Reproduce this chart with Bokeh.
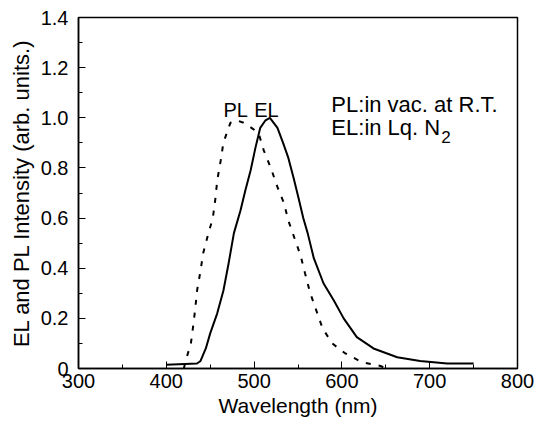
from bokeh.plotting import figure
from bokeh.models import Range1d, FixedTicker, Label
from bokeh.embed import file_html
from bokeh.resources import INLINE

# EL spectrum (solid), measured in liquid N2
el_wl = [400, 435, 439, 445, 450, 458, 465, 471, 477, 484.5, 490, 496, 501.5, 507, 513, 518,
         526.6, 533, 539, 545, 550.6, 556, 561, 568, 579, 591, 602, 617, 636, 663, 689, 720, 750]
el_int = [0.015, 0.02, 0.03, 0.08, 0.14, 0.22, 0.31, 0.42, 0.54, 0.63, 0.71, 0.79, 0.88, 0.96, 0.99, 1.0,
          0.96, 0.90, 0.84, 0.76, 0.68, 0.60, 0.54, 0.44, 0.34, 0.27, 0.20, 0.125, 0.08, 0.045, 0.03, 0.02, 0.02]

# PL spectrum (dashed), measured in vacuum at R.T.
pl_wl = [420, 422, 428, 431, 433, 435, 439, 442, 448, 453, 456, 458, 462, 465, 473, 480, 488, 497, 505,
         511, 519, 527, 534, 539, 553, 558, 564, 570, 578, 589, 604, 623, 644, 650]
pl_int = [0.0, 0.03, 0.10, 0.18, 0.24, 0.31, 0.39, 0.46, 0.54, 0.60, 0.68, 0.75, 0.83, 0.90, 0.98, 0.99, 0.98, 0.96, 0.94,
          0.87, 0.80, 0.72, 0.66, 0.59, 0.45, 0.38, 0.30, 0.24, 0.16, 0.10, 0.06, 0.025, 0.01, 0.0]

x_ticks = [300, 400, 500, 600, 700, 800]
y_ticks = [0, 0.2, 0.4, 0.6, 0.8, 1.0, 1.2, 1.4]
y_tick_labels = ["0", "0.2", "0.4", "0.6", "0.8", "1.0", "1.2", "1.4"]

FONT = "Liberation Sans"

p = figure(width=545, height=425, output_backend="svg", toolbar_location=None,
           x_range=Range1d(300, 800), y_range=Range1d(0, 1.4),
           min_border_left=78, min_border_right=28, min_border_top=17, min_border_bottom=57)
p.background_fill_color = "white"
p.border_fill_color = "white"
p.outline_line_color = "black"
p.outline_line_width = 1.5
p.grid.visible = False

p.xaxis.ticker = FixedTicker(ticks=x_ticks, minor_ticks=list(range(300, 801, 50)))
p.yaxis.ticker = FixedTicker(ticks=y_ticks, minor_ticks=[i / 10 for i in range(0, 15)])
p.yaxis.major_label_overrides = {t: s for t, s in zip(y_ticks, y_tick_labels)}

for ax in (p.xaxis[0], p.yaxis[0]):
    ax.axis_line_color = "black"
    ax.axis_line_width = 1.5
    ax.major_tick_in = 7
    ax.major_tick_out = 0
    ax.minor_tick_in = 4
    ax.minor_tick_out = 0
    ax.major_tick_line_color = "black"
    ax.minor_tick_line_color = "black"
    ax.major_label_text_font = FONT
    ax.major_label_text_font_size = "20px"
    ax.major_label_text_color = "black"
    ax.axis_label_text_font = FONT
    ax.axis_label_text_font_style = "normal"
    ax.axis_label_text_color = "black"

p.xaxis.axis_label = "Wavelength (nm)"
p.yaxis.axis_label = "EL and PL Intensity (arb. units.)"
p.xaxis.axis_label_text_font_size = "21px"
p.yaxis.axis_label_text_font_size = "22px"
p.xaxis.major_label_standoff = 5
p.xaxis.axis_label_standoff = 3
p.yaxis.major_label_standoff = 10
p.yaxis.axis_label_standoff = 4

p.line(el_wl, el_int, line_color="black", line_width=2)
p.line(pl_wl, pl_int, line_color="black", line_width=2, line_dash="5 8")

def lab(x, y, t, size="20px", align="left", x_off=0):
    p.add_layout(Label(x=x, y=y, text=t, text_font=FONT, text_font_size=size, x_offset=x_off,
                       text_color="black", text_align=align, text_baseline="alphabetic"))

lab(479, 1.03, "PL", align="center")
lab(514, 1.03, "EL", align="center")
lab(588, 1.053, "PL:in vac. at R.T.", size="22px")
lab(588, 0.961, "EL:in Lq. N", size="22px")
lab(588, 0.925, "2", size="17px", x_off=110)

open("out.html", "w").write(file_html(p, INLINE))
